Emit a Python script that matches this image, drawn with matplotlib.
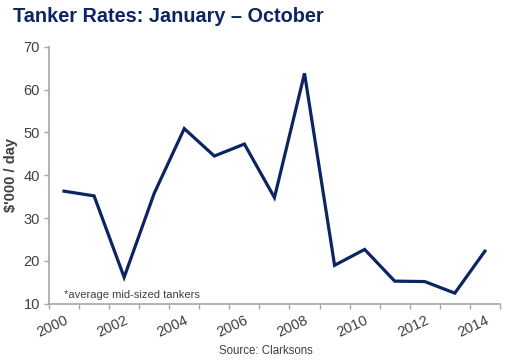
import numpy as np
import matplotlib
matplotlib.use('Agg')
import matplotlib.pyplot as plt

plt.rcParams['font.family'] = ['Liberation Sans', 'DejaVu Sans']

years = list(range(2000, 2015))
rates = [36.3, 35.2, 16.2, 35.8, 50.9, 44.5, 47.3, 34.8, 63.8, 19.0, 22.7, 15.3, 15.2, 12.5, 22.3]
year_labels = [str(y) for y in years[::2]]

navy = '#0c2461'
grey = '#a6a6a6'
text_col = '#404040'

fig = plt.figure(figsize=(5.13, 3.60), dpi=100)
ax = fig.add_axes([0.0955, 0.156, 0.879, 0.714])

x = np.arange(len(years))
ax.plot(x, rates, color=navy, lw=2.3, solid_joinstyle='miter')

ax.set_xlim(-0.5, len(years) - 0.5)
ax.set_ylim(10, 70)
ax.set_yticks(range(10, 71, 10))

# category axis: tick marks between categories, labels on every other year
ax.set_xticks(x[::2])
ax.set_xticklabels(year_labels, rotation=25, ha='right', rotation_mode='anchor')
ax.set_xticks(np.arange(-0.5, len(years)), minor=True)
ax.tick_params(axis='x', which='major', length=0, pad=7, labelsize=10.5, labelcolor=text_col)
ax.tick_params(axis='x', which='minor', length=3.5, color=grey, width=1)
ax.tick_params(axis='y', length=3.5, color=grey, width=1, labelsize=10.5, labelcolor=text_col, pad=3)

for s in ['top', 'right']:
    ax.spines[s].set_visible(False)
for s in ['left', 'bottom']:
    ax.spines[s].set_color(grey)
    ax.spines[s].set_linewidth(1.2)

ax.set_ylabel("$'000 / day", fontsize=10.5, fontweight='bold', color=text_col, labelpad=4)

ax.text(0.0, 12.0, '*average mid-sized tankers', fontsize=8, color=text_col, va='center')

fig.text(0.025, 0.955, 'Tanker Rates: January \u2013 October', fontsize=14.3, fontweight='bold',
         color=navy, va='center')
fig.text(0.518, 0.026, 'Source: Clarksons', fontsize=8.3, color=text_col, ha='center', va='center')

fig.savefig('out.png', dpi=100)
